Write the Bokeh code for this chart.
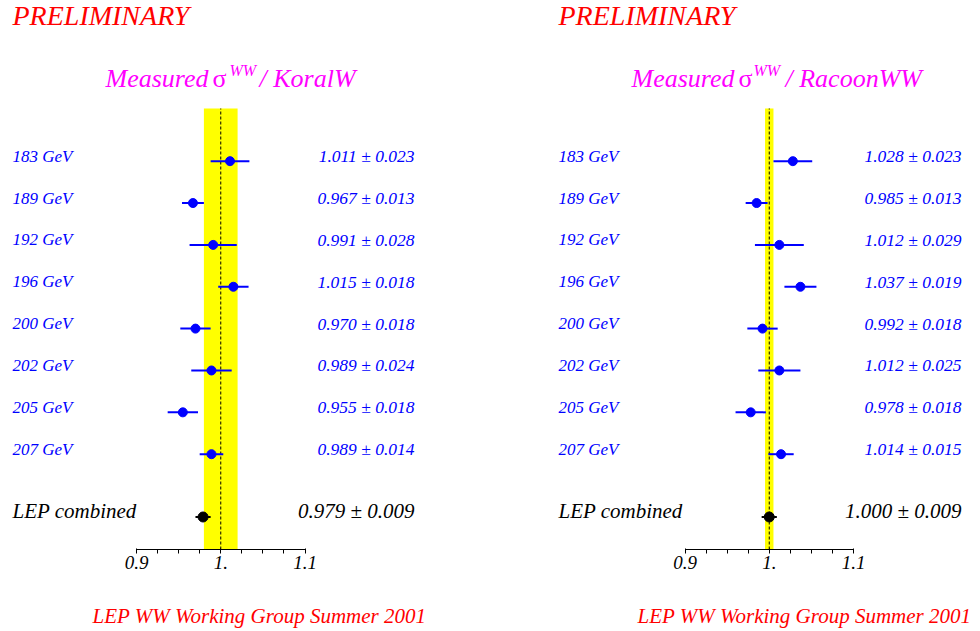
import numpy as np
from bokeh.plotting import figure
from bokeh.layouts import row
from bokeh.models import Range1d, FixedTicker, LinearAxis, CustomJSTickFormatter, Title, ColumnDataSource
from bokeh.core.properties import value
from bokeh.embed import file_html
from bokeh.resources import INLINE

# ---------------- data ----------------
energies = [183, 189, 192, 196, 200, 202, 205, 207]

koralw_ratio = [1.011, 0.967, 0.991, 1.015, 0.970, 0.989, 0.955, 0.989]
koralw_err = [0.023, 0.013, 0.028, 0.018, 0.018, 0.024, 0.018, 0.014]
koralw_comb = 0.979
koralw_comb_err = 0.009
koralw_band = 0.020

racoon_ratio = [1.028, 0.985, 1.012, 1.037, 0.992, 1.012, 0.978, 1.014]
racoon_err = [0.023, 0.013, 0.029, 0.019, 0.018, 0.025, 0.018, 0.015]
racoon_comb = 1.000
racoon_comb_err = 0.009
racoon_band = 0.005

axis_ticks = [0.9, 1.0, 1.1]
axis_minor_ticks = [0.925, 0.95, 0.975, 1.025, 1.05, 1.075]

FONT = value("Liberation Serif")
PX = 842.5          # pixels per unit ratio
ROW_PX = 41.86      # pixels per row
ROW0_PAGE = 453.7   # page y of last row
FRAME_H = 549
BOTTOM = 80


def make_panel(gen_name, ratio, err, comb, comb_err, band, fig_left, width, page09,
               title_pos, label_x, value_right, footer_off):
    def X(px):
        return 0.9 + (px - page09) / PX

    def Y(py):
        return (ROW0_PAGE - py) / ROW_PX

    p = figure(frame_width=width, frame_height=FRAME_H,
               x_range=Range1d(X(fig_left), X(fig_left + width)),
               y_range=Range1d(Y(FRAME_H), Y(0)),
               output_backend="svg", toolbar_location=None,
               x_axis_location=None, y_axis_location=None,
               min_border=0, min_border_bottom=BOTTOM)
    p.outline_line_color = None
    p.xgrid.visible = False
    p.ygrid.visible = False
    p.background_fill_color = "white"
    p.border_fill_color = "white"

    # theory band and reference line
    p.quad(left=[1.0 - band], right=[1.0 + band], bottom=[Y(549)], top=[Y(108)],
           fill_color="#FFFF00", line_color=None)
    p.segment(x0=[1.0], x1=[1.0], y0=[Y(549)], y1=[Y(108)], line_color="black",
              line_width=1, line_dash="3 2")

    n = len(energies)
    ys = list(range(n - 1, -1, -1))
    r = np.array(ratio)
    e = np.array(err)
    src = ColumnDataSource(dict(
        y=ys, r=r, lo=r - e, hi=r + e,
        lab=[f"{en} GeV" for en in energies],
        val=[f"{a:.3f} \u00b1 {b:.3f}" for a, b in zip(ratio, err)],
    ))
    p.segment(x0="lo", x1="hi", y0="y", y1="y", source=src, line_color="#0000FF", line_width=2)
    p.scatter(x="r", y="y", source=src, size=9, fill_color="#0000FF", line_color="#0000FF")

    p.text(x=X(label_x), y="y", text="lab", source=src, text_font=FONT, text_font_style="italic",
           text_font_size="17px", text_color="#0000FF", text_baseline="alphabetic", text_align="left",
           y_offset=-5)
    p.text(x=X(value_right), y="y", text="val", source=src, text_font=FONT, text_font_style="italic",
           text_font_size="17.5px", text_color="#0000FF", text_baseline="alphabetic", text_align="right",
           y_offset=-5)

    # combined
    yc = -1.5
    p.segment(x0=[comb - comb_err], x1=[comb + comb_err], y0=[yc], y1=[yc], line_color="black", line_width=2)
    p.scatter(x=[comb], y=[yc], size=10, fill_color="black", line_color="black")
    p.text(x=[X(label_x)], y=[yc], text=["LEP combined"], text_font=FONT, text_font_style="italic",
           text_font_size="21px", text_color="black", text_baseline="alphabetic", y_offset=-6)
    p.text(x=[X(value_right)], y=[yc], text=[f"{comb:.3f} \u00b1 {comb_err:.3f}"], text_font=FONT,
           text_font_style="italic", text_font_size="21px", text_color="black",
           text_baseline="alphabetic", text_align="right", y_offset=-6)

    # headers
    p.text(x=[X(label_x)], y=[Y(25)], text=["PRELIMINARY"], text_font=FONT, text_font_style="italic",
           text_font_size="28px", text_color="#FF0000", text_baseline="alphabetic", y_offset=-10)
    mx, sx, wx, gx = title_pos
    p.text(x=[X(mx)], y=[Y(87)], text=["Measured"], text_font=FONT, text_font_style="italic",
           text_font_size="26px", text_color="#FF00FF", text_baseline="alphabetic", y_offset=-9)
    p.text(x=[X(sx)], y=[Y(87)], text=["\u03c3"], text_font=FONT, text_font_style="normal",
           text_font_size="26px", text_color="#FF00FF", text_baseline="alphabetic", y_offset=-9)
    p.text(x=[X(wx)], y=[Y(76)], text=["WW"], text_font=FONT, text_font_style="italic",
           text_font_size="16px", text_color="#FF00FF", text_baseline="alphabetic", y_offset=-6)
    p.text(x=[X(gx)], y=[Y(87)], text=["/ " + gen_name], text_font=FONT, text_font_style="italic",
           text_font_size="26px", text_color="#FF00FF", text_baseline="alphabetic", y_offset=-9)

    ax = LinearAxis(ticker=FixedTicker(ticks=axis_ticks, minor_ticks=axis_minor_ticks),
                    bounds=(axis_ticks[0], axis_ticks[-1]),
                    formatter=CustomJSTickFormatter(code="return tick == 1 ? '1.' : tick.toFixed(1);"),
                    major_label_text_font="Liberation Serif", major_label_text_font_style="italic",
                    major_label_text_font_size="19px", major_label_text_color="black",
                    major_tick_in=1, major_tick_out=4, minor_tick_in=0, minor_tick_out=4,
                    axis_line_color="black", major_tick_line_color="black",
                    minor_tick_line_color="black", major_label_standoff=2)
    p.add_layout(ax, "below")
    p.add_layout(Title(text="LEP WW Working Group Summer 2001", align="left", offset=footer_off,
                       text_font="Liberation Serif", text_font_style="italic", text_font_size="21px",
                       text_color="#FF0000", standoff=61), "below")
    return p


W1 = 547
W2 = 431
left = make_panel("KoralW", koralw_ratio, koralw_err, koralw_comb, koralw_comb_err, koralw_band,
                  0, W1, 136, (105, 212, 229, 259), 12, 414, 92)
right = make_panel("RacoonWW", racoon_ratio, racoon_err, racoon_comb, racoon_comb_err, racoon_band,
                   W1, W2, 684.5, (631, 738, 753, 785), 558, 961, 90)

layout = row(left, right, spacing=0)
open("out.html", "w").write(file_html(layout, INLINE))
